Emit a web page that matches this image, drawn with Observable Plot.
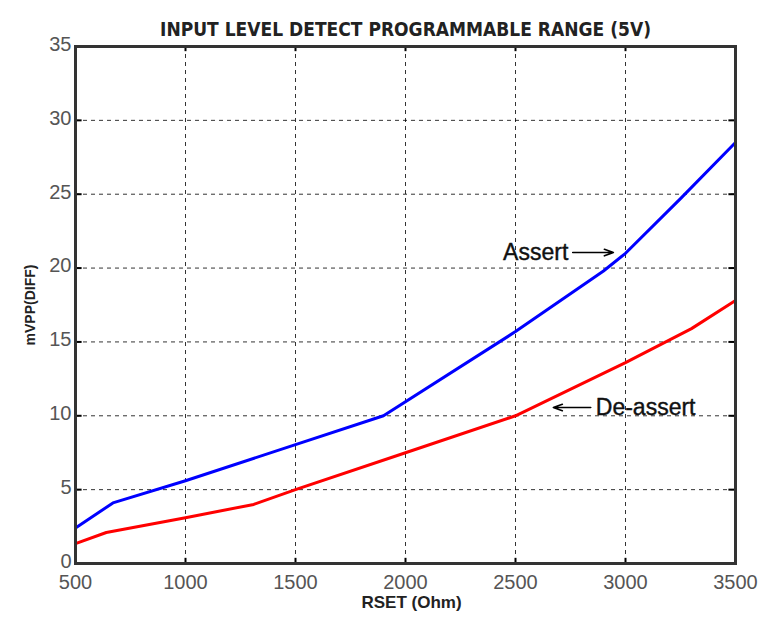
<!DOCTYPE html>
<html><head><meta charset="utf-8">
<script src="https://cdn.jsdelivr.net/npm/d3@7"></script>
<script src="https://cdn.jsdelivr.net/npm/@observablehq/plot@0.6"></script>
<style>body{margin:0;background:#fff;} svg{display:block;}</style>
</head><body><div id="chart"></div>
<script>
const assertX = [500, 670, 1000, 1500, 1900, 2500, 2900, 3000, 3250, 3500];
const assertY = [2.4, 4.1, 5.6, 8.05, 10.0, 15.7, 19.8, 21.0, 24.7, 28.5];
const deassertX = [500, 640, 1000, 1310, 1500, 2000, 2500, 3000, 3300, 3500];
const deassertY = [1.35, 2.1, 3.1, 4.0, 5.0, 7.5, 10.0, 13.6, 15.9, 17.8];
const xTicks = [500, 1000, 1500, 2000, 2500, 3000, 3500];
const yTicks = [0, 5, 10, 15, 20, 25, 30, 35];
const labels = ["Assert", "De-assert"];
const labelX = [2740, 2865];
const labelY = [21.05, 10.56];
const arrowFromX = [2760, 2842];
const arrowToX = [2945, 2672];
const arrowY = [21.05, 10.56];
const title = "INPUT LEVEL DETECT PROGRAMMABLE RANGE (5V)";

const series = [
  ...assertX.map((x, i) => ({x, y: assertY[i], s: "Assert"})),
  ...deassertX.map((x, i) => ({x, y: deassertY[i], s: "De-assert"}))
];
const ann = labels.map((t, i) => ({t, x: labelX[i], y: labelY[i], x1: arrowFromX[i], x2: arrowToX[i], ay: arrowY[i]}));

const chart = Plot.plot({
  width: 765, height: 619,
  marginLeft: 75, marginRight: 30, marginTop: 46, marginBottom: 56,
  style: {fontFamily: "Liberation Sans, Arial, sans-serif", background: "#fff"},
  x: {domain: [500, 3500], ticks: xTicks, label: null, tickFormat: "d"},
  y: {domain: [0, 35], ticks: yTicks, label: null},
  marks: [
    Plot.gridX(xTicks.slice(1, -1), {stroke: "#000", strokeOpacity: 0.8, strokeDasharray: "4,4", strokeWidth: 1}),
    Plot.gridY(yTicks.slice(1, -1), {stroke: "#000", strokeOpacity: 0.8, strokeDasharray: "4,4", strokeWidth: 1}),
    Plot.ruleX(xTicks, {y1: 0, y2: 0.35, stroke: "#000", strokeWidth: 2}),
    Plot.ruleX(xTicks, {y1: 35, y2: 34.65, stroke: "#000", strokeWidth: 2}),
    Plot.ruleY(yTicks, {x1: 500, x2: 530, stroke: "#000", strokeWidth: 2}),
    Plot.ruleY(yTicks, {x1: 3500, x2: 3470, stroke: "#000", strokeWidth: 2}),
    Plot.line(series, {x: "x", y: "y", z: "s", stroke: d => d.s === "Assert" ? "#0000ff" : "#ff0000", strokeWidth: 3}),
    Plot.frame({stroke: "#333", strokeWidth: 3}),
    Plot.axisX(xTicks, {tickSize: 0, fontSize: 20, fill: "#555", tickPadding: 11, tickFormat: "d"}),
    Plot.axisY(yTicks, {tickSize: 0, fontSize: 20, fill: "#555", tickPadding: 4, dy: -2}),
    Plot.arrow(ann, {x1: "x1", x2: "x2", y1: "ay", y2: "ay", stroke: "#000", strokeWidth: 1.6, headLength: 9, headAngle: 40}),
    Plot.text(ann.filter(d => d.t === "Assert"), {x: "x", y: "y", text: "t", textAnchor: "end", fontSize: 23, fill: "#111", stroke: "#111", strokeWidth: 0.4}),
    Plot.text(ann.filter(d => d.t !== "Assert"), {x: "x", y: "y", text: "t", textAnchor: "start", fontSize: 23, fill: "#111", stroke: "#111", strokeWidth: 0.4}),
    Plot.text([title], {frameAnchor: "top", textAnchor: "middle", dy: -24, fontSize: 19, fontWeight: "bold", fontFamily: "Liberation Sans Narrow, DejaVu Sans Condensed, sans-serif", fill: "#222"}),
    Plot.text(["RSET (Ohm)"], {frameAnchor: "bottom", textAnchor: "middle", dx: 6, dy: 44, fontSize: 17, fontWeight: "bold", fill: "#222"}),
    Plot.text(["mVPP(DIFF)"], {frameAnchor: "left", textAnchor: "middle", dx: -45, rotate: -90, fontSize: 14, fontWeight: "bold", fill: "#222"})
  ]
});
document.getElementById("chart").appendChild(chart);
</script></body></html>
